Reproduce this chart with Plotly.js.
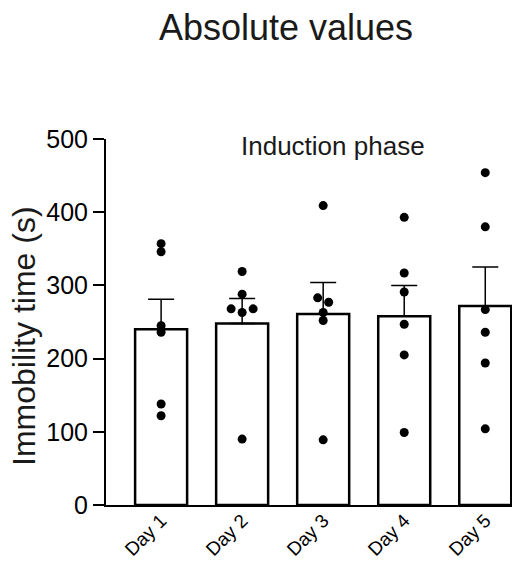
<!DOCTYPE html>
<html>
<head>
<meta charset="utf-8">
<script src="https://cdn.plot.ly/plotly-3.0.1.min.js"></script>
<style>html,body{margin:0;padding:0;background:#fff;}#chart{width:517px;height:562px;}</style>
</head>
<body>
<div id="chart"></div>
<script>
// ---- data ----
const days = ['Day 1', 'Day 2', 'Day 3', 'Day 4', 'Day 5'];
const meanValues = [240, 248, 261, 258, 272];
const semValues = [41, 34, 43, 42, 53];
const day1Points = [357, 346, 245, 236, 138, 122];
const day2Points = [319, 288, 268, 268, 263, 90];
const day3Points = [409, 283, 277, 263, 252, 89];
const day4Points = [393, 317, 291, 247, 205, 99];
const day5Points = [454, 380, 267, 236, 194, 104];
const yTicks = [0, 100, 200, 300, 400, 500];

const allPoints = [day1Points, day2Points, day3Points, day4Points, day5Points];

// ---- layout geometry ----
const W = 517, H = 562;
const margin = {l: 106, r: 5, t: 139, b: 57};
const xRange = [-0.68, 4.33];
const yRange = [0, 500];
const plotW = W - margin.l - margin.r;
const plotH = H - margin.t - margin.b;
const xPxPerUnit = plotW / (xRange[1] - xRange[0]);
const yPxPerUnit = plotH / (yRange[1] - yRange[0]);

// simple scatter dodge: points closer than a few pixels vertically are spread sideways
function dodge(vals) {
  const sorted = vals.slice().sort((a, b) => a - b);
  const groups = [];
  sorted.forEach(v => {
    const g = groups[groups.length - 1];
    if (g && (v - g[g.length - 1]) * yPxPerUnit < 6) g.push(v); else groups.push([v]);
  });
  const spacing = 11;
  const out = [];
  groups.forEach(g => {
    const n = g.length;
    const slots = [];
    for (let k = 0; k < n; k++) slots.push((k - (n - 1) / 2) * spacing);
    slots.sort((a, b) => Math.abs(a) - Math.abs(b) || b - a);
    g.forEach((v, i) => out.push({y: v, dx: slots[i] / xPxPerUnit}));
  });
  return out;
}

const xIdx = days.map((d, i) => i);
const ptsX = [], ptsY = [];
allPoints.forEach((vals, i) => {
  dodge(vals).forEach(p => { ptsX.push(i + p.dx); ptsY.push(p.y); });
});

const font = '"Liberation Sans", Arial, Helvetica, sans-serif';

const barTrace = {
  type: 'bar',
  x: xIdx,
  y: meanValues,
  width: 52 / xPxPerUnit,
  marker: {color: '#ffffff', line: {color: '#000000', width: 2.5}},
  error_y: {
    type: 'data', symmetric: false,
    array: semValues, arrayminus: semValues.map(() => 0),
    color: '#000000', thickness: 1.5, width: 13
  },
  hoverinfo: 'skip',
  showlegend: false
};

const pointTrace = {
  type: 'scatter',
  mode: 'markers',
  x: ptsX,
  y: ptsY,
  marker: {color: '#000000', size: 9},
  cliponaxis: false,
  showlegend: false
};

const layout = {
  width: W, height: H,
  margin: margin,
  paper_bgcolor: '#ffffff',
  plot_bgcolor: '#ffffff',
  font: {family: font, color: '#000000'},
  showlegend: false,
  title: {
    text: 'Absolute values',
    font: {family: font, size: 36, color: '#1a1a1a'},
    xref: 'container', x: 286 / W, xanchor: 'center',
    yref: 'container', y: 1 - 27 / H, yanchor: 'middle'
  },
  xaxis: {
    range: xRange,
    tickmode: 'array',
    tickvals: xIdx,
    ticktext: days,
    tickangle: -45,
    ticks: '',
    ticklabelstandoff: -5,
    showgrid: false,
    zeroline: false,
    showline: true,
    linecolor: '#000000',
    linewidth: 2,
    tickfont: {family: font, size: 19, color: '#000000'},
    fixedrange: true
  },
  yaxis: {
    range: yRange,
    tickmode: 'array',
    tickvals: yTicks,
    ticks: 'outside',
    ticklen: 11,
    tickwidth: 2,
    tickcolor: '#000000',
    showgrid: false,
    zeroline: false,
    showline: true,
    linecolor: '#000000',
    linewidth: 2,
    tickfont: {family: font, size: 25, color: '#000000'},
    fixedrange: true
  },
  annotations: [{
    // y-axis title
    text: 'Immobility time (s)',
    xref: 'paper', yref: 'paper',
    x: (24 - margin.l) / plotW, y: (H - margin.b - 336) / plotH,
    xanchor: 'center', yanchor: 'middle',
    textangle: -90,
    showarrow: false,
    font: {family: font, size: 32, color: '#1a1a1a'}
  }, {
    text: 'Induction phase',
    xref: 'paper', yref: 'paper',
    x: (333 - margin.l) / plotW, y: (H - margin.b - 146) / plotH,
    xanchor: 'center', yanchor: 'middle',
    showarrow: false,
    font: {family: font, size: 26, color: '#1a1a1a'}
  }]
};

Plotly.newPlot('chart', [barTrace, pointTrace], layout, {displayModeBar: false, staticPlot: true});
</script>
</body>
</html>
